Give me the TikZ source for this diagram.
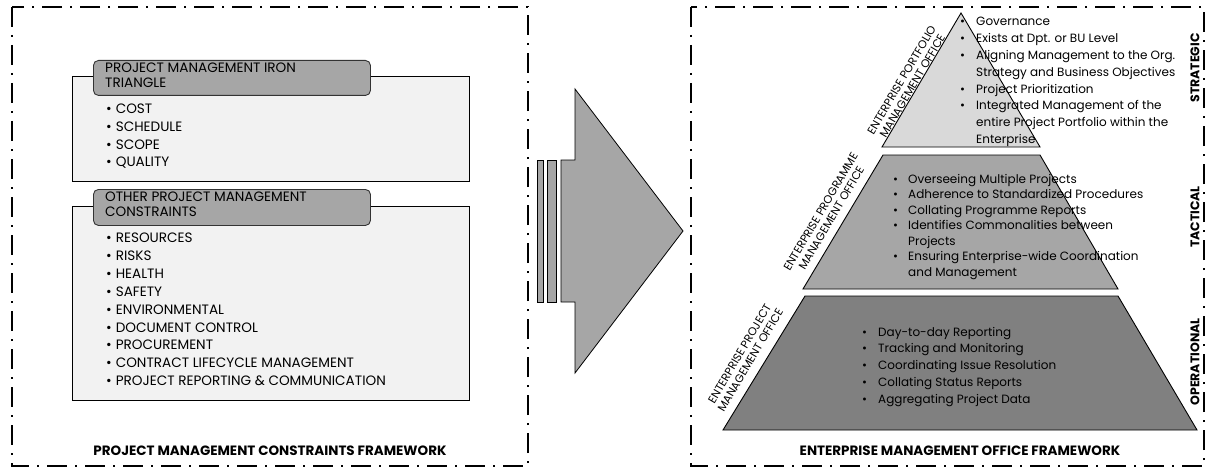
\documentclass[tikz,border=0pt]{standalone}
\usepackage{fontspec}
\setmainfont{Poppins}
\newcommand{\listfont}{\fontsize{13.6}{14}\selectfont}
\newcommand{\pyrfont}{\fontsize{12}{13}\selectfont}
\newcommand{\sidefont}{\fontsize{11.3}{12.5}\selectfont}
\newcommand{\levelfont}{\fontsize{12.5}{13}\selectfont\bfseries}
\newcommand{\titlefont}{\fontsize{13.5}{14}\selectfont\bfseries}
\definecolor{boxgray}{HTML}{F2F2F2}
\definecolor{tabgray}{HTML}{A6A6A6}
\definecolor{tierone}{HTML}{D9D9D9}
\definecolor{tiertwo}{HTML}{A6A6A6}
\definecolor{tierthree}{HTML}{808080}
\begin{document}
\begin{tikzpicture}[x=1pt,y=-1pt,
  frame/.style={line width=2pt, dash pattern=on 20pt off 8pt on 2pt off 8pt},
  listbox/.style={draw=black, line width=0.9pt, fill=boxgray, anchor=north west, inner sep=0pt},
  tabbox/.style={draw=black!80, line width=0.9pt, fill=tabgray, rounded corners=5pt, anchor=north west, inner sep=0pt},
  txt/.style={anchor=base west, inner sep=0pt, font=\listfont},
  ptxt/.style={anchor=base west, inner sep=0pt, font=\pyrfont},
  tier/.style={draw=black, line width=0.9pt},
  side/.style={inner sep=0pt, font=\sidefont, align=center, rotate=59.5, anchor=center},
  level/.style={inner sep=0pt, font=\levelfont, rotate=90},
  ttl/.style={inner sep=0pt, font=\titlefont, anchor=base},
  blockarrow/.style={draw=black, line width=0.8pt, fill=tabgray}]
\useasboundingbox (0,0) rectangle (1206,468);

% ---------- left frame: constraints ----------
\draw[frame] (12,7) rectangle (528,466);

\node[listbox, minimum width=397pt, minimum height=105pt] (box1) at (72,76) {};
\node[tabbox, minimum width=277pt, minimum height=35pt] (tab1) at (93,60) {};
\node[txt] (tab1a) at (105,72.5) {PROJECT MANAGEMENT IRON};
\node[txt] (tab1b) at (105,87.5) {TRIANGLE};
\foreach \t [count=\i from 0] in {COST,SCHEDULE,SCOPE,QUALITY}
  \node[txt] (iron\i) at (106,113.5+17.8*\i) {•\hspace{4pt}\t};

\node[listbox, minimum width=397pt, minimum height=194pt] (box2) at (72,206) {};
\node[tabbox, minimum width=277pt, minimum height=36pt] (tab2) at (93,189) {};
\node[txt] (tab2a) at (105,201.5) {OTHER PROJECT MANAGEMENT};
\node[txt] (tab2b) at (105,216.5) {CONSTRAINTS};
\foreach \t [count=\i from 0] in {RESOURCES,RISKS,HEALTH,SAFETY,ENVIRONMENTAL,
    DOCUMENT CONTROL,PROCUREMENT,CONTRACT LIFECYCLE MANAGEMENT,
    PROJECT REPORTING \& COMMUNICATION}
  \node[txt] (other\i) at (106,242.5+17.9*\i) {•\hspace{4pt}\t};

\node[ttl] (lefttitle) at (270,455) {PROJECT MANAGEMENT CONSTRAINTS FRAMEWORK};

% ---------- block arrow ----------
\draw[blockarrow] (537,160) rectangle (543,302);
\draw[blockarrow] (547,160) rectangle (556,302);
\draw[blockarrow] (561,160) -- (575,160) -- (575,89) -- (683,231)
  -- (575,373) -- (575,302) -- (561,302) -- cycle;

% ---------- right frame: enterprise management office ----------
\draw[frame] (691,7) rectangle (1204,466);

\draw[tier, fill=tierone] (961,13) -- (1040,147) -- (882,147) -- cycle;
\draw[tier, fill=tiertwo] (883,155) -- (1040,155) -- (1118,289) -- (803,289) -- cycle;
\draw[tier, fill=tierthree] (805,296) -- (1118,296) -- (1197,430) -- (723,430) -- cycle;

\node[side] (pfo) at (907,83) {ENTERPRISE PORTFOLIO\\MANAGEMENT OFFICE};
\node[side] (pgo) at (826,215) {ENTERPRISE PROGRAMME\\MANAGEMENT OFFICE};
\node[side] (pjo) at (745,357) {ENTERPRISE PROJECT\\MANAGEMENT OFFICE};

% strategic tier
\foreach \t/\b [count=\i from 0] in {Governance/1,Exists at Dpt. or BU Level/1,
    Aligning Management to the Org./1,Strategy and Business Objectives/0,
    Project Prioritization/1,Integrated Management of the/1,
    entire Project Portfolio within the/0,Enterprise/0}
  \node[ptxt] (s\i) at (960,26+16.8*\i)
    {\makebox[16pt][l]{\ifnum\b=1 •\fi}\t};

% tactical tier
\foreach \t/\b [count=\i from 0] in {Overseeing Multiple Projects/1,
    Adherence to Standardized Procedures/1,Collating Programme Reports/1,
    Identifies Commonalities between/1,Projects/0,
    Ensuring Enterprise-wide Coordination/1,and Management/0}
  \node[ptxt] (t\i) at (893,183+15.5*\i)
    {\makebox[15pt][l]{\ifnum\b=1 •\fi}\t};

% operational tier
\foreach \t [count=\i from 0] in {Day-to-day Reporting,Tracking and Monitoring,
    Coordinating Issue Resolution,Collating Status Reports,Aggregating Project Data}
  \node[ptxt] (o\i) at (862,336+16.8*\i) {\makebox[16pt][l]{•}\t};

\node[level] (strat) at (1195,68) {STRATEGIC};
\node[level] (tact) at (1195,217) {TACTICAL};
\node[level] (oper) at (1195,362) {OPERATIONAL};

\node[ttl] (righttitle) at (960,455) {ENTERPRISE MANAGEMENT OFFICE FRAMEWORK};
\end{tikzpicture}
\end{document}
